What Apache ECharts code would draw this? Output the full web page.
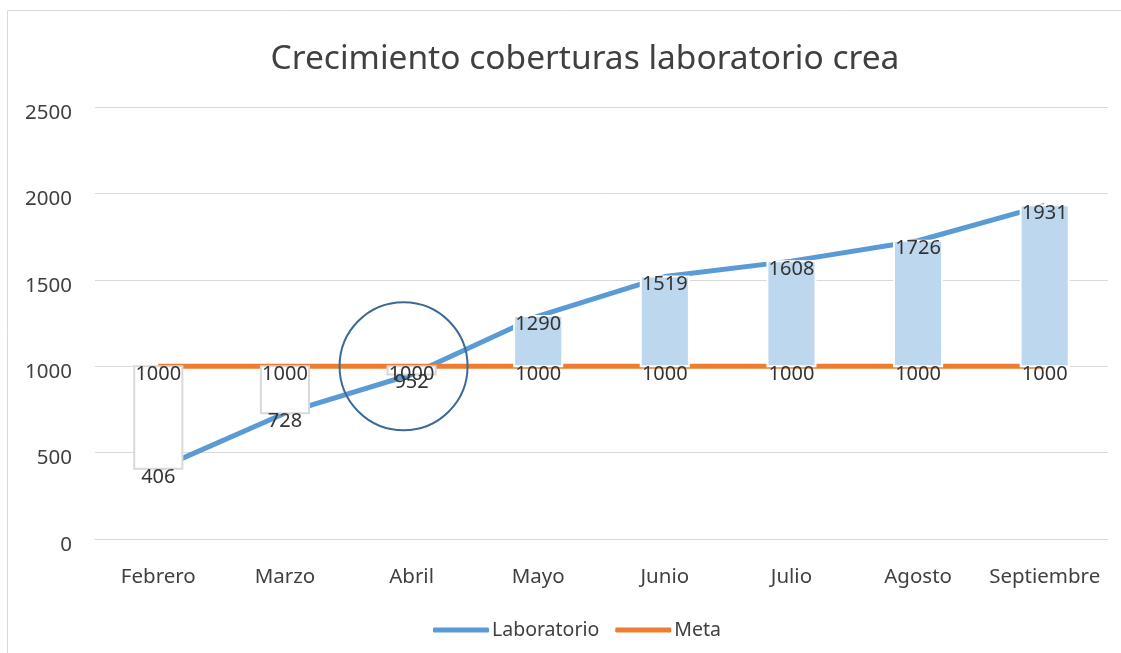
<!DOCTYPE html>
<html>
<head>
<meta charset="utf-8">
<script src="https://cdn.jsdelivr.net/npm/echarts@6/dist/echarts.min.js"></script>
<style>
html, body { margin: 0; padding: 0; background: #fff; }
#chart { width: 1121px; height: 653px; }
</style>
</head>
<body>
<div id="chart"></div>
<script>
// datos del grafico
var meses = ['Febrero', 'Marzo', 'Abril', 'Mayo', 'Junio', 'Julio', 'Agosto', 'Septiembre'];
var laboratorio = [406, 728, 952, 1290, 1519, 1608, 1726, 1931];
var meta = [1000, 1000, 1000, 1000, 1000, 1000, 1000, 1000];
var yTicks = [0, 500, 1000, 1500, 2000, 2500];
var marcado = 'Abril';

var fuente = "'Noto Sans', 'Open Sans', sans-serif";
var gris = '#404040';

// barras arriba/abajo (entre meta y laboratorio)
var barras = [];
for (var i = 0; i < meses.length; i++) {
    barras.push([i, laboratorio[i], meta[i]]);
}

var chart = echarts.init(document.getElementById('chart'));
var option = {
    animation: false,
    textStyle: { fontFamily: fuente },
    title: {
        text: 'Crecimiento coberturas laboratorio crea',
        left: 580,
        top: 37,
        textAlign: 'center',
        textStyle: { fontSize: 33.5, fontWeight: 'normal', color: gris, fontFamily: fuente }
    },
    legend: {
        data: ['Laboratorio', 'Meta'],
        bottom: 8,
        left: 428,
        icon: 'roundRect',
        itemWidth: 56,
        itemHeight: 5,
        itemGap: 16,
        textStyle: { fontSize: 19.5, color: gris, padding: [8, 0, 0, -2] }
    },
    grid: { left: 95, right: 13, top: 107, bottom: 114 },
    xAxis: {
        type: 'category',
        data: meses,
        axisLine: { lineStyle: { color: '#d9d9d9', width: 1 } },
        axisTick: { show: false },
        axisLabel: { interval: 0, fontSize: 20.5, color: gris, margin: 28 }
    },
    yAxis: {
        type: 'value',
        min: yTicks[0],
        max: yTicks[yTicks.length - 1],
        interval: 500,
        axisLine: { show: false },
        axisTick: { show: false },
        splitLine: { lineStyle: { color: '#d9d9d9', width: 1 } },
        axisLabel: {
            color: gris,
            margin: 23,
            formatter: function(v) { return '{n|' + v + '}'; },
            rich: {
                n: { fontSize: 20.5, color: gris, padding: [12, 0, 0, 0], fontFamily: fuente }
            }
        }
    },
    graphic: [{
        type: 'rect',
        shape: { x: 7.5, y: 10.5, width: 1200, height: 700 },
        style: { fill: 'none', stroke: '#d9d9d9', lineWidth: 1 },
        silent: true
    }],
    series: [
        {
            name: 'Laboratorio',
            type: 'line',
            data: laboratorio,
            showSymbol: false,
            symbol: 'none',
            lineStyle: { color: '#5b9bd5', width: 5 },
            itemStyle: { color: '#5b9bd5' },
            z: 2
        },
        {
            name: 'Meta',
            type: 'line',
            data: meta,
            showSymbol: false,
            symbol: 'none',
            lineStyle: { color: '#ed7d31', width: 5 },
            itemStyle: { color: '#ed7d31' },
            z: 2
        },
        {
            name: 'barras',
            type: 'custom',
            data: barras,
            z: 3,
            renderItem: function(params, api) {
                var x = api.value(0);
                var lab = api.value(1);
                var m = api.value(2);
                var p1 = api.coord([x, lab]);
                var p2 = api.coord([x, m]);
                var w = api.size([1, 0])[0] * 0.38;
                var sube = lab > m;
                return {
                    type: 'rect',
                    shape: {
                        x: p1[0] - w / 2,
                        y: Math.min(p1[1], p2[1]),
                        width: w,
                        height: Math.abs(p1[1] - p2[1])
                    },
                    style: {
                        fill: sube ? '#bdd7ee' : '#ffffff',
                        stroke: sube ? '#ffffff' : '#d9d9d9',
                        lineWidth: 2
                    }
                };
            }
        },
        {
            name: 'circulo',
            type: 'scatter',
            data: [[meses.indexOf(marcado), 1000]],
            symbol: 'circle',
            symbolSize: 128,
            symbolOffset: [-8, 0],
            itemStyle: { color: 'rgba(0,0,0,0)', borderColor: '#3b6a98', borderWidth: 2, opacity: 1 },
            silent: true,
            z: 4
        },
        {
            name: 'etiquetaMeta',
            type: 'scatter',
            data: meta,
            symbolSize: 0,
            silent: true,
            z: 5,
            itemStyle: { opacity: 1 },
            label: {
                show: true,
                position: 'inside',
                offset: [0, 8],
                fontSize: 20,
                color: '#333333',
                opacity: 1,
                fontFamily: fuente
            }
        },
        {
            name: 'etiquetaLab',
            type: 'scatter',
            data: laboratorio,
            symbolSize: 0,
            silent: true,
            z: 5,
            itemStyle: { opacity: 1 },
            label: {
                show: true,
                position: 'inside',
                offset: [0, 8],
                fontSize: 20,
                color: '#333333',
                opacity: 1,
                fontFamily: fuente
            }
        }
    ]
};
chart.setOption(option);
</script>
</body>
</html>
